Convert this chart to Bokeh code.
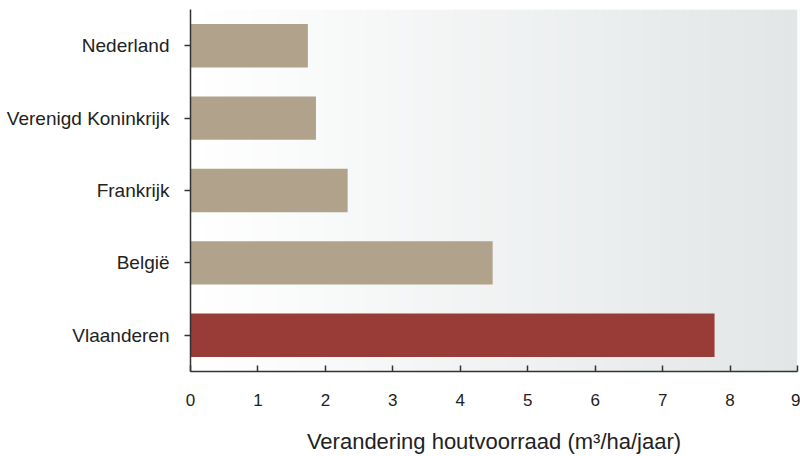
import numpy as np
from bokeh.plotting import figure
from bokeh.models import FactorRange, Range1d, FixedTicker, ColumnDataSource
from bokeh.embed import file_html
from bokeh.resources import INLINE

# Data (top to bottom as in the picture)
countries = ["Nederland", "Verenigd Koninkrijk", "Frankrijk", "België", "Vlaanderen"]
values = [1.74, 1.86, 2.33, 4.48, 7.77]
colors = ["#b0a28b", "#b0a28b", "#b0a28b", "#b0a28b", "#993b36"]
x_ticks = [0, 1, 2, 3, 4, 5, 6, 7, 8, 9]
x_label = "Verandering houtvoorraad (m³/ha/jaar)"

factors = list(reversed(countries))

W, H = 800, 456
L, R, T, B = 190, 3, 9, 84

p = figure(width=W, height=H, output_backend="svg", toolbar_location=None,
           y_range=FactorRange(factors=factors), x_range=Range1d(0, 9),
           min_border_left=L, min_border_right=R, min_border_top=T, min_border_bottom=B)
p.outline_line_color = None
p.grid.grid_line_color = None
p.background_fill_color = "white"
p.border_fill_color = "white"

# Background horizontal gradient (white -> light grey), decorative
n = 90
edges = np.linspace(0, 9, n + 1)
t = (np.arange(n) + 0.5) / n
c0 = np.array([255, 255, 255])
c1 = np.array([226, 230, 231])
grad_cols = ["#%02x%02x%02x" % tuple(np.round(c0 + (c1 - c0) * ti).astype(int)) for ti in t]
p.quad(left=edges[:-1], right=np.minimum(edges[1:] + 0.05, 9), bottom=0, top=len(factors),
       fill_color=grad_cols, line_color=None, level="underlay")

src = ColumnDataSource(dict(y=countries, v=values, c=colors))
p.hbar(y="y", right="v", left=0, height=0.6, fill_color="c", line_color=None, source=src)

xa = p.xaxis[0]
xa.ticker = FixedTicker(ticks=x_ticks)
xa.major_tick_in = 6
xa.major_tick_out = 0
xa.minor_tick_line_color = None
xa.axis_line_color = "#333333"
xa.axis_line_width = 1.5
xa.major_tick_line_color = "#333333"
xa.major_tick_line_width = 1.5
xa.major_label_text_font = "Liberation Sans"
xa.major_label_text_font_size = "17px"
xa.major_label_text_color = "#222222"
xa.major_label_standoff = 22
xa.axis_label = x_label
xa.axis_label_text_font = "Liberation Sans"
xa.axis_label_text_font_size = "22px"
xa.axis_label_text_font_style = "normal"
xa.axis_label_text_color = "#222222"
xa.axis_label_standoff = 20

ya = p.yaxis[0]
ya.major_tick_in = 0
ya.major_tick_out = 6
ya.axis_line_color = "#333333"
ya.axis_line_width = 1.5
ya.major_tick_line_color = "#333333"
ya.major_tick_line_width = 1.5
ya.major_label_text_font = "Liberation Sans"
ya.major_label_text_font_size = "19px"
ya.major_label_text_color = "#222222"
ya.major_label_standoff = 15

open("out.html", "w").write(file_html(p, INLINE))
